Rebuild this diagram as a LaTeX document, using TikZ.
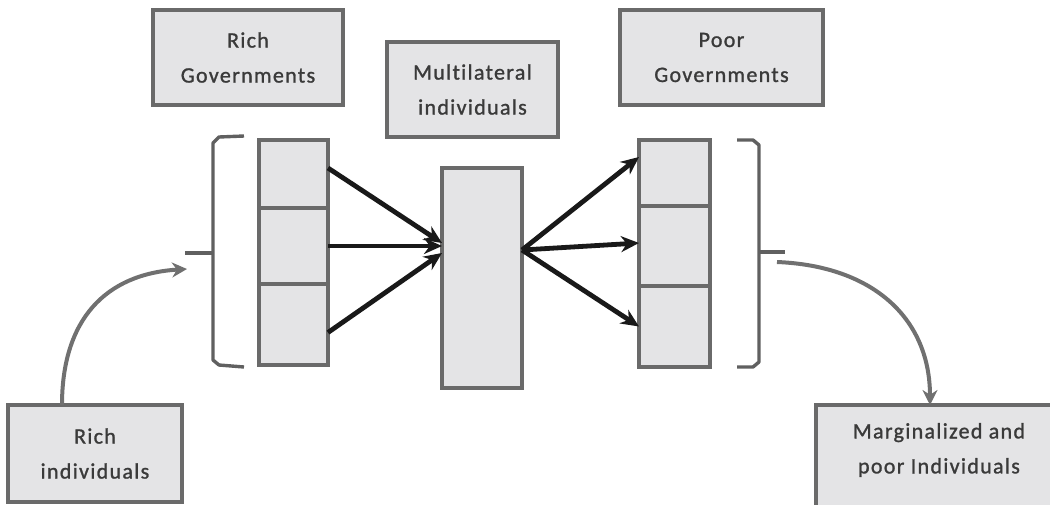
\documentclass[tikz,border=0pt]{standalone}
\usepackage{fontspec}
\setmainfont{Carlito}[LetterSpace=6,FakeBold=1.2,Ligatures=NoCommon]
\usetikzlibrary{arrows.meta,calc}
\definecolor{boxfill}{HTML}{E4E4E6}
\definecolor{boxline}{HTML}{6A6A6A}
\definecolor{txtcol}{HTML}{3A3A3A}
\definecolor{curvecol}{HTML}{707070}
\definecolor{brackcol}{HTML}{606060}
\begin{document}
\begin{tikzpicture}[x=1pt,y=-1pt,
  box/.style={draw=boxline, fill=boxfill, line width=4pt, inner sep=0pt, outer sep=0pt, anchor=north west},
  lbl/.style={text=txtcol, align=center, font=\fontsize{22}{35}\selectfont},
  arr/.style={draw=black!90, line width=4.8pt, -{Stealth[length=18pt,width=16pt]}},
  carr/.style={draw=curvecol, line width=4pt, -{Stealth[length=15pt,width=15pt]}},
  brack/.style={draw=brackcol, line width=3.4pt, line join=round}]
\useasboundingbox (0,0) rectangle (1050,504);
\clip (0,0) rectangle (1050,504);
% top boxes
\node[box, lbl, minimum width=190, minimum height=95] (rgov) at (153,10) {Rich\\Governments};
\node[box, lbl, minimum width=171, minimum height=95] (multi) at (387,42) {Multilateral\\individuals};
\node[box, lbl, minimum width=203, minimum height=95] (pgov) at (620,10) {Poor\\Governments};
% left stack
\node[box, minimum width=69, minimum height=68] (l1) at (259,140) {};
\node[box, minimum width=69, minimum height=76] (l2) at (259,208) {};
\node[box, minimum width=69, minimum height=81] (l3) at (259,284) {};
% middle
\node[box, minimum width=80, minimum height=220] (mid) at (442,168) {};
% right stack
\node[box, minimum width=71, minimum height=66] (r1) at (639,140) {};
\node[box, minimum width=71, minimum height=80] (r2) at (639,206) {};
\node[box, minimum width=71, minimum height=81] (r3) at (639,286) {};
% bottom boxes
\node[box, lbl, minimum width=174, minimum height=97] (rind) at (8,405) {Rich\\individuals};
\node[box, minimum width=250, minimum height=130] (marg) at (816,405) {};
\node[lbl] (margtxt) at (939,450) {Marginalized and\\poor Individuals};
% brackets
\draw[brack] (244,136) -- (219,137) -- (213,143) -- (213,360) -- (219,365) -- (244,367);
\draw[brack] (213,253) -- (185,253);
\draw[brack] (737,140) -- (753,140) -- (759,145) -- (759,362) -- (753,367) -- (737,367);
\draw[brack] (759,252) -- (785,252);
% straight arrows
\draw[arr] ([yshift=6]l1.east) -- ([yshift=35]mid.west);
\draw[arr] (l2.east) -- ([yshift=32]mid.west);
\draw[arr] ([yshift=-8]l3.east) -- ([yshift=25]mid.west);
\draw[arr] ([yshift=28]mid.east) -- ([yshift=16]r1.west);
\draw[arr] ([yshift=28]mid.east) -- ([yshift=3]r2.west);
\draw[arr] ([yshift=28]mid.east) -- (r3.west);
% curved arrows
\coordinate (lend) at (187,269);
\coordinate (rstart) at (777,262);
\draw[carr] ([xshift=-33]rind.north) .. controls (62,320) and (105,274) .. (lend);
\draw[carr] (rstart) .. controls (875,266) and (930,320) .. ([xshift=-11]marg.north);
\end{tikzpicture}
\end{document}
